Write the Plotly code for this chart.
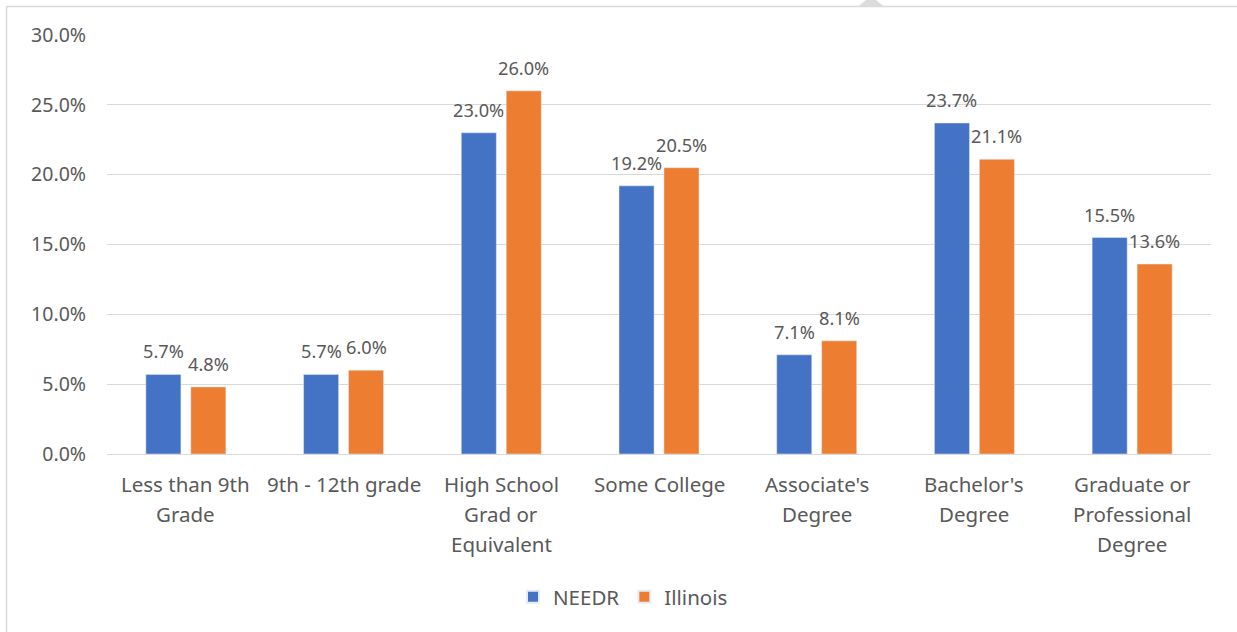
import plotly.graph_objects as go

# Educational attainment shares (percent)
categories = [
    "Less than 9th<br>Grade",
    "9th - 12th grade",
    "High School<br>Grad or<br>Equivalent",
    "Some College",
    "Associate's<br>Degree",
    "Bachelor's<br>Degree",
    "Graduate or<br>Professional<br>Degree",
]
needr = [5.7, 5.7, 23.0, 19.2, 7.1, 23.7, 15.5]
illinois = [4.8, 6.0, 26.0, 20.5, 8.1, 21.1, 13.6]
y_ticks = [0, 5, 10, 15, 20, 25, 30]

BLUE = "#4472C4"
ORANGE = "#ED7D31"
TEXT = "#595959"
GRID = "#D9D9D9"
FONT = "Noto Sans"

W, H = 1237, 632
ML, MR, MT, MB = 107, 26, 35, 178
BARGAP, GROUPGAP = 0.43, 0.22

pw, ph = W - ML - MR, H - MT - MB


def px_x(p):
    return (p - ML) / pw


def px_y(p):
    return (H - MB - p) / ph


x_idx = list(range(len(categories)))

fig = go.Figure()
fig.add_trace(go.Bar(name="NEEDR", x=x_idx, y=needr, marker_color=BLUE))
fig.add_trace(go.Bar(name="Illinois", x=x_idx, y=illinois, marker_color=ORANGE))

# value labels above each bar
slot = (1 - BARGAP) / 2
annotations = []
for series, off in ((needr, -slot / 2), (illinois, slot / 2)):
    for i, v in enumerate(series):
        annotations.append(dict(
            x=i + off, y=v, xref="x", yref="y", text=f"{v:.1f}%",
            showarrow=False, yshift=23, yanchor="middle",
            font=dict(family=FONT, size=18.2, color=TEXT),
        ))

# category labels, one annotation per line
for i, lab in enumerate(categories):
    for j, line in enumerate(lab.split("<br>")):
        annotations.append(dict(
            x=i, y=0, xref="x", yref="paper", text=line, showarrow=False,
            yanchor="middle", yshift=-(30 + 30 * j),
            font=dict(family=FONT, size=20.5, color=TEXT),
        ))

shapes = [
    dict(type="line", xref="paper", yref="paper", x0=px_x(6.5), x1=px_x(W + 5),
         y0=px_y(6.5), y1=px_y(6.5), line=dict(color=GRID, width=1.5)),
    dict(type="line", xref="paper", yref="paper", x0=px_x(6.5), x1=px_x(6.5),
         y0=px_y(6.5), y1=px_y(H + 5), line=dict(color=GRID, width=1.5)),
    dict(type="path", xref="paper", yref="paper",
         path=(f"M {px_x(858)},{px_y(6.5)} L {px_x(866)},{px_y(0)} "
               f"L {px_x(876)},{px_y(0)} L {px_x(884)},{px_y(6.5)} Z"),
         fillcolor="#DCDCDC", line=dict(width=0)),
]

fig.update_layout(
    width=W, height=H,
    margin=dict(l=ML, r=MR, t=MT, b=MB),
    paper_bgcolor="white", plot_bgcolor="white",
    barmode="group", bargap=BARGAP, bargroupgap=GROUPGAP,
    font=dict(family=FONT, color=TEXT),
    xaxis=dict(
        range=[-0.5, len(categories) - 0.5], showticklabels=False,
        showgrid=False, zeroline=False, showline=False, fixedrange=True,
    ),
    yaxis=dict(
        range=[0, 30], tickvals=y_ticks,
        ticktext=[f"{t:.1f}%" for t in y_ticks],
        showgrid=True, gridcolor=GRID, gridwidth=1.4,
        zeroline=True, zerolinecolor=GRID, zerolinewidth=1.4,
        showline=False, ticks="", ticklabelstandoff=20,
        tickfont=dict(family=FONT, size=19.5, color=TEXT),
    ),
    legend=dict(
        orientation="h", x=px_x(623), xanchor="center", y=px_y(597),
        yanchor="middle", font=dict(family=FONT, size=20.5, color=TEXT),
        itemsizing="constant", traceorder="normal",
    ),
    annotations=annotations,
    shapes=shapes,
)

fig.write_html("out.html")
